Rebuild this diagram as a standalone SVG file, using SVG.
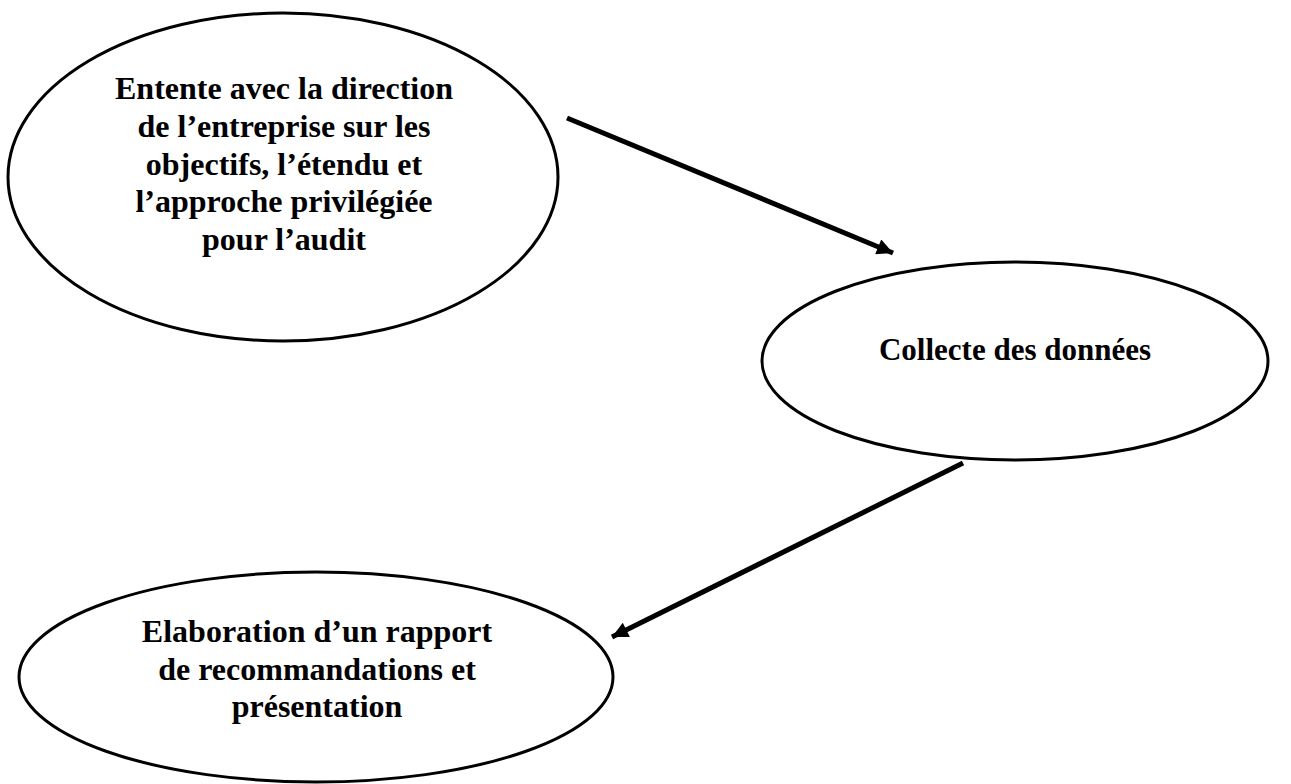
<svg xmlns="http://www.w3.org/2000/svg" width="1291" height="784" viewBox="0 0 1291 784">
<style>
.node ellipse{fill:#fff;stroke:#000;stroke-width:3}
.node text{font-family:"Liberation Serif","Times New Roman",serif;font-weight:bold;font-size:32px;fill:#000;text-anchor:middle}
.conn line{stroke:#000;stroke-width:5}
</style>
<defs>
<marker id="ah" viewBox="0 0 10 10" refX="10" refY="5" markerWidth="3.8" markerHeight="3.2" orient="auto" markerUnits="strokeWidth">
<path d="M0,0 L10,5 L0,10 z" fill="#000"/>
</marker>
</defs>
<rect width="1291" height="784" fill="#fff"/>
<g id="n1" class="node">
<ellipse cx="283" cy="177" rx="275" ry="164"/>
<text x="284" y="99">Entente avec la direction</text>
<text x="284" y="137">de l’entreprise sur les</text>
<text x="284" y="175">objectifs, l’étendu et</text>
<text x="284" y="212">l’approche privilégiée</text>
<text x="284" y="250">pour l’audit</text>
</g>
<g id="n2" class="node">
<ellipse cx="1015" cy="361" rx="253" ry="99"/>
<text x="1015" y="360" style="font-size:31px">Collecte des données</text>
</g>
<g id="n3" class="node">
<ellipse cx="316" cy="677" rx="297" ry="105"/>
<text x="317" y="642">Elaboration d’un rapport</text>
<text x="317" y="680">de recommandations et</text>
<text x="317" y="717">présentation</text>
</g>
<g id="connectors" class="conn">
<line x1="567" y1="118" x2="893" y2="253" marker-end="url(#ah)"/>
<line x1="963" y1="463" x2="612" y2="637" marker-end="url(#ah)"/>
</g>
</svg>
